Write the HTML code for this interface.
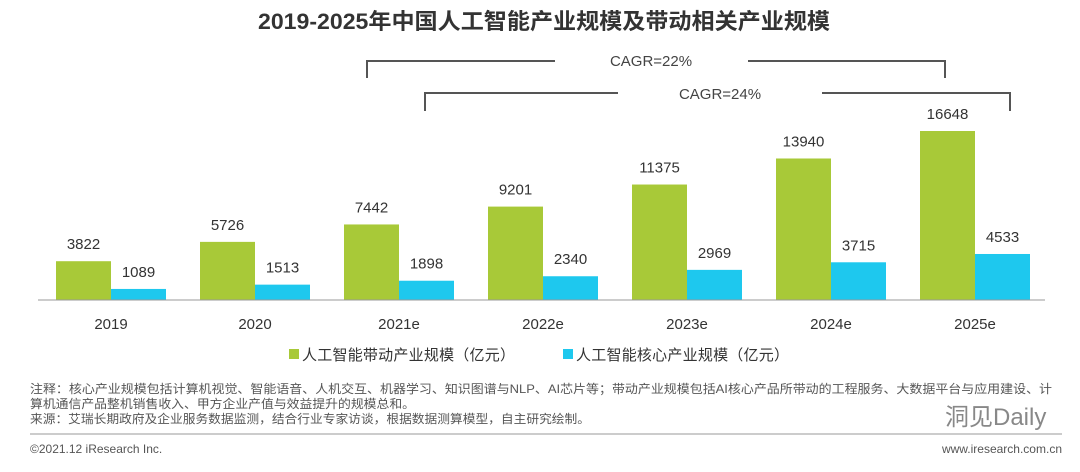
<!DOCTYPE html>
<html><head><meta charset="utf-8"><style>
body{margin:0;background:#fff;width:1080px;height:467px;overflow:hidden;font-family:"Liberation Sans","Noto Sans CJK SC",sans-serif;}
svg text{font-family:"Liberation Sans","Noto Sans CJK SC",sans-serif;}
</style></head><body>
<svg id="chart" width="1080" height="467">
<text x="258" y="29" textLength="572" lengthAdjust="spacingAndGlyphs" font-size="22" font-weight="bold" fill="#333">2019-2025年中国人工智能产业规模及带动相关产业规模</text>
<g stroke="#555" stroke-width="2" fill="none">
<polyline points="367,78 367,61 555,61"/><polyline points="748,61 945,61 945,78"/></g>
<text x="651" y="66" text-anchor="middle" font-size="15" fill="#444">CAGR=22%</text>
<g stroke="#555" stroke-width="2" fill="none">
<polyline points="425,111 425,93 618,93"/><polyline points="822,93 1010,93 1010,111"/></g>
<text x="720" y="99" text-anchor="middle" font-size="15" fill="#444">CAGR=24%</text>
<g id="bars"></g>
<line x1="38" y1="300" x2="1045" y2="300" stroke="#999" stroke-width="1"/>
<rect x="289" y="349" width="10" height="10" fill="#a8c938"/>
<text x="302" y="360" textLength="213" font-size="15" fill="#333">人工智能带动产业规模（亿元）</text>
<rect x="563" y="349" width="10" height="10" fill="#1ec8ee"/>
<text x="576" y="360" textLength="213" font-size="15" fill="#333">人工智能核心产业规模（亿元）</text>
<g font-size="12" fill="#555">
<text x="30" y="393" textLength="1022" lengthAdjust="spacingAndGlyphs">注释：核心产业规模包括计算机视觉、智能语音、人机交互、机器学习、知识图谱与NLP、AI芯片等；带动产业规模包括AI核心产品所带动的工程服务、大数据平台与应用建设、计</text>
<text x="30" y="408" textLength="385" lengthAdjust="spacingAndGlyphs">算机通信产品整机销售收入、甲方企业产值与效益提升的规模总和。</text>
<text x="30" y="423" textLength="560" lengthAdjust="spacingAndGlyphs">来源：艾瑞长期政府及企业服务数据监测，结合行业专家访谈，根据数据测算模型，自主研究绘制。</text>
<text x="30" y="453">©2021.12 iResearch Inc.</text>
<text x="1062" y="453" text-anchor="end">www.iresearch.com.cn</text>
</g>
<line x1="30" y1="434" x2="1062" y2="434" stroke="#999"/>
<text x="945" y="425" font-size="24" fill="#888">洞见Daily</text>
</svg>
<script>
const categories=["2019","2020","2021e","2022e","2023e","2024e","2025e"];
const drivenValues=[3822,5726,7442,9201,11375,13940,16648];
const coreValues=[1089,1513,1898,2340,2969,3715,4533];
const baseY=300, scale=169/16648, x0=111, step=144, bw=55;
const xPos=i=>x0+i*step;
const yPos=v=>baseY-v*scale;
const g=document.getElementById('bars');
const NS="http://www.w3.org/2000/svg";
function mk(tag,attrs){const e=document.createElementNS(NS,tag);for(const k in attrs)e.setAttribute(k,attrs[k]);return e;}
categories.forEach((c,i)=>{
  const cx=xPos(i);
  const r1=mk('rect',{x:cx-bw,y:yPos(drivenValues[i]),width:bw,height:baseY-yPos(drivenValues[i]),fill:'#a8c938'});
  
  
  g.appendChild(r1);
  const r2=mk('rect',{x:cx,y:yPos(coreValues[i]),width:bw,height:baseY-yPos(coreValues[i]),fill:'#1ec8ee'});
  
  
  g.appendChild(r2);
  const t1=mk('text',{x:cx-bw/2,y:yPos(drivenValues[i])-12,'text-anchor':'middle','font-size':15,fill:'#333'});
  t1.textContent=drivenValues[i];
  
  
  g.appendChild(t1);
  const t2=mk('text',{x:cx+bw/2,y:yPos(coreValues[i])-12,'text-anchor':'middle','font-size':15,fill:'#333'});
  t2.textContent=coreValues[i];
  
  
  g.appendChild(t2);
  const tl=mk('text',{x:cx,y:329,'text-anchor':'middle','font-size':15,fill:'#333'});
  tl.textContent=c;
  
  
  g.appendChild(tl);
});
</script>
</body></html>
